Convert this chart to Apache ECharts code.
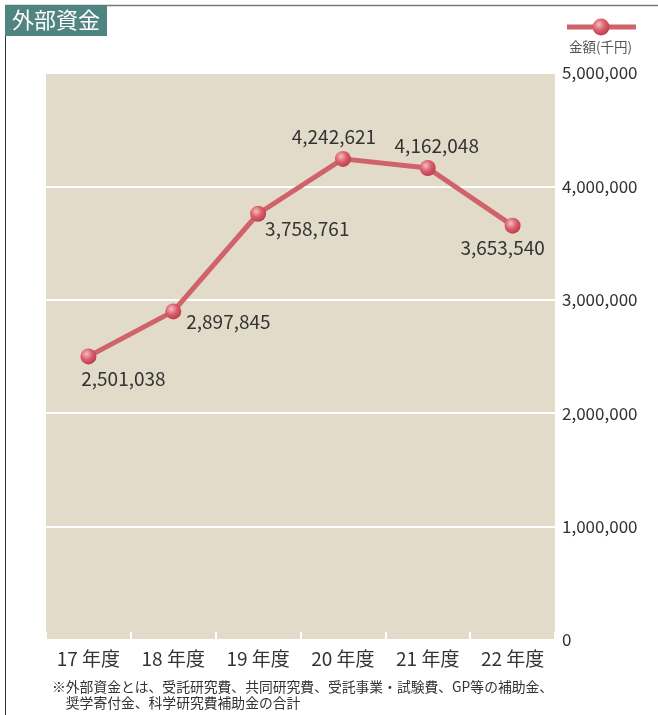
<!DOCTYPE html>
<html>
<head>
<meta charset="utf-8">
<script src="https://cdn.jsdelivr.net/npm/echarts@6/dist/echarts.min.js"></script>
<style>
  html, body { margin: 0; padding: 0; background: #fff; }
  #chart { width: 658px; height: 715px; }
</style>
</head>
<body>
<div id="chart"></div>
<script>
// 年度と外部資金(千円)
const years = ['17 年度', '18 年度', '19 年度', '20 年度', '21 年度', '22 年度'];
const amounts = [2501038, 2897845, 3758761, 4242621, 4162048, 3653540];
// 値ラベルの位置
const labelPos = ['bottom', 'right', 'right', 'top', 'top', 'bottom'];
const labelOffset = [[35, 0], [0, 10], [-6, 15], [-9, 0], [9, 0], [-10, 0]];

const FONT = '"Noto Sans CJK JP", "Noto Sans", sans-serif';
const lineColor = '#d0626a';
const ballColor = {
  type: 'radial', x: 0.38, y: 0.35, r: 0.7,
  colorStops: [
    { offset: 0, color: '#f6bcc2' },
    { offset: 0.5, color: '#d9606c' },
    { offset: 1, color: '#b83a4a' }
  ]
};

const chart = echarts.init(document.getElementById('chart'));

const seriesData = amounts.map((v, i) => ({
  value: v,
  label: { position: labelPos[i], offset: labelOffset[i] }
}));

chart.setOption({
  animation: false,
  textStyle: { fontFamily: FONT },
  title: {
    text: '外部資金',
    left: 5, top: 5,
    padding: [4, 7, 5, 7],
    backgroundColor: '#4f8481',
    textStyle: { color: '#fff', fontSize: 22, fontWeight: 'normal', fontFamily: FONT }
  },
  grid: {
    left: 46, right: 103, top: 73, bottom: 75,
    show: true,
    backgroundColor: '#e2dbc9',
    borderWidth: 0
  },
  xAxis: {
    type: 'category',
    data: years,
    boundaryGap: true,
    axisLine: { show: false },
    axisTick: {
      show: true, inside: true, length: 8,
      lineStyle: { color: '#fff', width: 2 }
    },
    axisLabel: { color: '#333', fontSize: 19, margin: 9, fontFamily: FONT }
  },
  yAxis: {
    type: 'value',
    position: 'right',
    min: 0, max: 5000000, interval: 1000000,
    axisLine: { show: false },
    axisTick: { show: false },
    axisLabel: {
      color: '#333', fontSize: 17, margin: 7, align: 'left', fontFamily: FONT,
      formatter: v => v.toLocaleString('en-US')
    },
    splitLine: { lineStyle: { color: '#fff', width: 2 } }
  },
  series: [{
    name: '金額(千円)',
    type: 'line',
    data: seriesData,
    symbol: 'circle',
    symbolSize: 16,
    lineStyle: { color: lineColor, width: 5 },
    itemStyle: { color: ballColor, borderWidth: 0 },
    label: {
      show: true,
      distance: 5,
      color: '#333',
      fontSize: 19,
      fontFamily: FONT,
      formatter: p => p.value.toLocaleString('en-US')
    }
  }],
  graphic: [
    // 枠線
    { type: 'line', shape: { x1: 5, y1: 5.5, x2: 658, y2: 5.5 }, style: { stroke: '#777', lineWidth: 1.5 } },
    { type: 'line', shape: { x1: 5.5, y1: 5, x2: 5.5, y2: 715 }, style: { stroke: '#333', lineWidth: 1 } },
    // 凡例
    { type: 'line', shape: { x1: 567, y1: 27, x2: 636, y2: 27 }, style: { stroke: lineColor, lineWidth: 5 } },
    { type: 'circle', shape: { cx: 601, cy: 27, r: 8.5 }, style: { fill: ballColor } },
    { type: 'text', left: 569, top: 40, style: { text: '金額(千円)', fill: '#555', font: '13.5px ' + FONT } },
    {
      type: 'text', left: 52, top: 679,
      style: {
        text: '※外部資金とは、受託研究費、共同研究費、受託事業・試験費、GP等の補助金、\n　奨学寄付金、科学研究費補助金の合計',
        fill: '#333', font: '13.8px ' + FONT, lineHeight: 16
      }
    }
  ]
});
</script>
</body>
</html>
